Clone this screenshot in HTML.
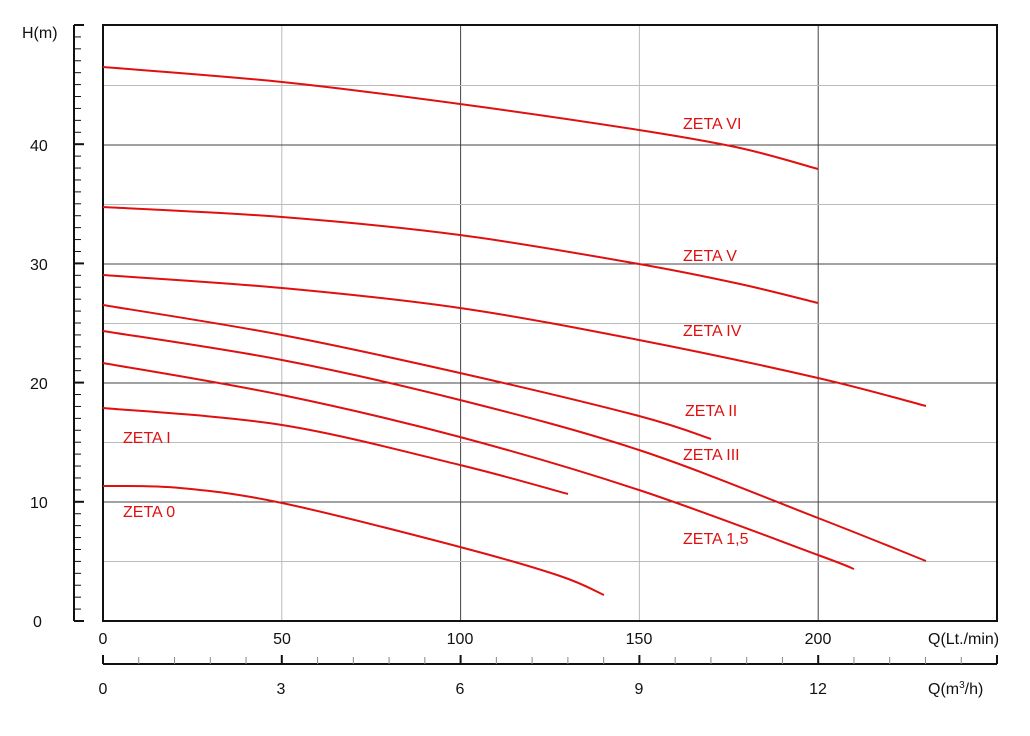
<!DOCTYPE html>
<html><head><meta charset="utf-8"><style>body{margin:0;background:#fff}svg{display:block}text{font-family:"Liberation Sans",Arial,sans-serif}</style></head>
<body>
<svg id="s" width="1030" height="736" xmlns="http://www.w3.org/2000/svg">
<g id="grid"></g>
<rect x="103" y="25" width="894" height="596" fill="none" stroke="#111" stroke-width="2"/>
<g font-size="16" fill="#111">
<text x="22" y="38">H(m)</text>
<text x="30" y="151">40</text><text x="30" y="270">30</text><text x="30" y="389">20</text><text x="30" y="508">10</text><text x="33" y="627">0</text>
<text x="103" y="644" text-anchor="middle">0</text><text x="282" y="644" text-anchor="middle">50</text><text x="460" y="644" text-anchor="middle">100</text><text x="639" y="644" text-anchor="middle">150</text><text x="818" y="644" text-anchor="middle">200</text>
<text x="928" y="644">Q(Lt./min)</text>
<text x="103" y="694" text-anchor="middle">0</text><text x="281" y="694" text-anchor="middle">3</text><text x="460" y="694" text-anchor="middle">6</text><text x="639" y="694" text-anchor="middle">9</text><text x="818" y="694" text-anchor="middle">12</text>
<text x="928" y="694">Q(m<tspan font-size="10" dy="-6">3</tspan><tspan dy="6">/h)</tspan></text>
</g>
<g font-size="16" fill="#e01010">
<text x="683" y="129">ZETA VI</text><text x="683" y="261">ZETA V</text><text x="683" y="336">ZETA IV</text><text x="685" y="416">ZETA II</text><text x="683" y="460">ZETA III</text><text x="683" y="544">ZETA 1,5</text><text x="123" y="443">ZETA I</text><text x="123" y="517">ZETA 0</text>
</g>
<g id="curves" fill="none" stroke="#e01010" stroke-width="2"></g>
</svg>
<script>
var ns="http://www.w3.org/2000/svg",g=document.getElementById('grid');
function L(x1,y1,x2,y2,c,w,p){var l=document.createElementNS(ns,'line');l.setAttribute('x1',x1);l.setAttribute('y1',y1);l.setAttribute('x2',x2);l.setAttribute('y2',y2);l.setAttribute('stroke',c);l.setAttribute('stroke-width',w);(p||g).appendChild(l);}
for(var i=1;i<=4;i++){var x=103+i*178.8;L(x,25,x,621,i%2?'#bbb':'#444',1);}
for(var i=1;i<=9;i++){var y=621-i*11.9*5;L(103,y,997,y,i%2?'#bbb':'#444',1);}
L(74,25,74,621,'#111',2);
for(var i=0;i<=50;i++){var y=621-i*11.92;L(74,y,i%10?81:84,y,'#111',i%10?1:2);}
L(103,664,997,664,'#111',2);
for(var i=0;i<=25;i++){var x=103+i*35.76;L(x,664,x,i%5?657:655,i%5?'#888':'#111',i%5?1:2);}
var C=[
[[103,67],[282,82],[460,104],[639,130],[740,148],[818,169]],
[[103,207],[282,217],[460,235],[639,264],[740,284],[818,303]],
[[103,275],[282,288],[460,308],[639,340],[818,378],[926,406]],
[[103,305],[282,335],[460,373],[639,416],[711,439]],
[[103,331],[282,360],[460,400],[639,450],[818,518],[926,561]],
[[103,363],[282,395],[460,437],[639,490],[818,555],[854,569]],
[[103,408],[282,425],[460,465],[568,494]],
[[103,486],[180,488],[282,503],[460,547],[560,576],[604,595]]];
var cg=document.getElementById('curves');
C.forEach(function(p){var d='M'+p[0];for(var i=0;i<p.length-1;i++){var a=p[Math.max(i-1,0)],b=p[i],c=p[i+1],e=p[Math.min(i+2,p.length-1)];
d+=' C'+(b[0]+(c[0]-a[0])/6)+','+(b[1]+(c[1]-a[1])/6)+' '+(c[0]-(e[0]-b[0])/6)+','+(c[1]-(e[1]-b[1])/6)+' '+c;}
var q=document.createElementNS(ns,'path');q.setAttribute('d',d);cg.appendChild(q);});
</script>
</body></html>
